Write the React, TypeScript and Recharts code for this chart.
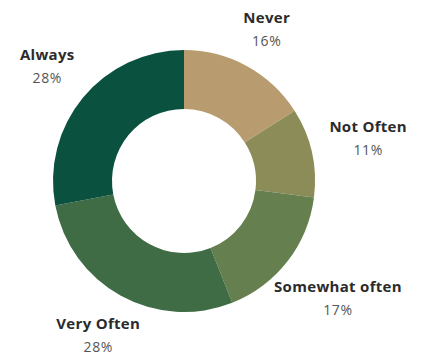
import { PieChart, Pie, Cell } from 'recharts';

const categories = ['Never', 'Not Often', 'Somewhat often', 'Very Often', 'Always'];
const shares = [16, 11, 17, 28, 28];
const colors = ['#b89c6f', '#8c8c58', '#657f4e', '#3f6b45', '#0a5140'];

const data = categories.map((name, i) => ({ name, value: shares[i] }));

const RADIAN = Math.PI / 180;

const renderLabel = ({ cx, cy, midAngle, outerRadius, name, value }: any) => {
  const cos = Math.cos(-midAngle * RADIAN);
  const sin = Math.sin(-midAngle * RADIAN);
  // side labels sit further out so their text clears the ring
  const r = outerRadius + 34 + 2.7 * Math.abs(cos) * name.length;
  const x = cx + r * cos;
  const y = cy + r * sin;
  return (
    <g>
      <text
        x={x}
        y={y - 8}
        textAnchor="middle"
        fontFamily="'Open Sans', sans-serif"
        fontWeight={700}
        fontSize={15}
        letterSpacing={0.3}
        fill="#2b2b2b"
      >
        {name}
      </text>
      <text
        x={x}
        y={y + 15}
        textAnchor="middle"
        fontFamily="'Open Sans', sans-serif"
        fontSize={14}
        letterSpacing={0.6}
        fill="#555555"
      >
        {`${value}%`}
      </text>
    </g>
  );
};

export default function App() {
  return (
    <div style={{ position: 'absolute', left: 0, top: 0, background: '#fff' }}>
      <PieChart width={424} height={356} margin={{ top: 0, right: 0, bottom: 0, left: 0 }}>
        <Pie
          data={data}
          dataKey="value"
          nameKey="name"
          cx={184}
          cy={181}
          innerRadius={72}
          outerRadius={131}
          startAngle={90}
          endAngle={-270}
          stroke="none"
          label={renderLabel}
          labelLine={false}
          isAnimationActive={false}
        >
          {data.map((d, i) => (
            <Cell key={d.name} fill={colors[i]} />
          ))}
        </Pie>
      </PieChart>
    </div>
  );
}
